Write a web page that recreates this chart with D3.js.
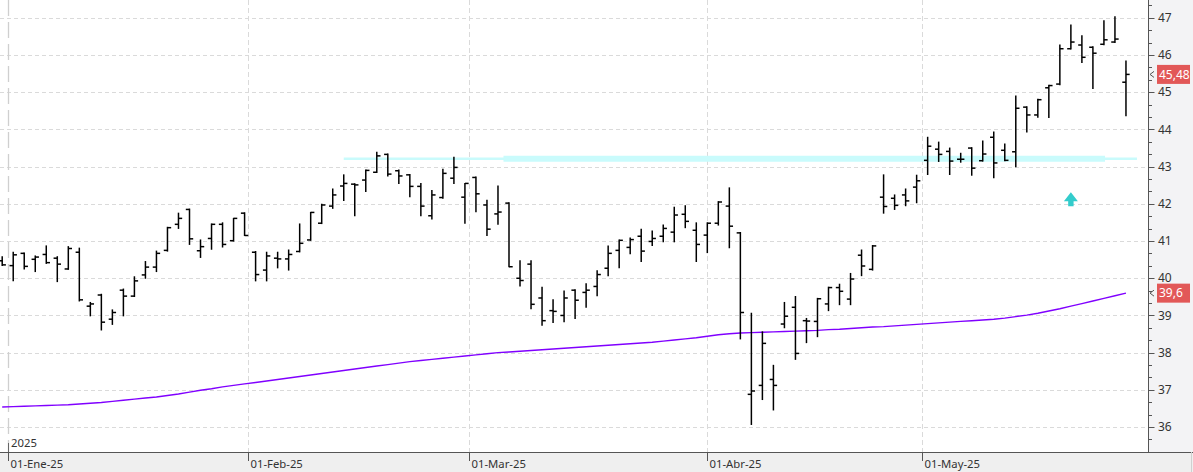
<!DOCTYPE html>
<html>
<head>
<meta charset="utf-8">
<script src="https://cdn.jsdelivr.net/npm/d3@7"></script>
<style>
    body { margin: 0; background: #fff; }
    svg { display: block; font-family: "Noto Sans", sans-serif; }
</style>
</head>
<body>
<div id="chart"></div>
<script>
// Daily bars, 31-Dic-24 .. 28-May-25
const opens = [40.47,40.34,40.67,40.51,40.64,40.54,40.25,40.70,39.25,39.55,
    38.90,39.68,39.52,40.09,40.30,40.75,41.45,41.85,40.74,41.07,
    41.45,41.01,41.75,40.70,40.22,40.54,40.52,40.72,41.03,41.48,
    41.94,42.48,42.53,42.64,42.85,43.33,42.89,42.78,42.47,41.68,
    42.17,42.69,42.18,42.71,41.97,41.73,42.02,40.00,40.38,39.47,
    39.13,39.00,39.68,39.62,39.78,40.27,40.75,40.83,41.13,40.99,
    41.13,41.24,41.72,41.29,41.16,41.48,41.94,41.22,36.88,37.12,
    37.28,38.77,39.22,38.86,38.84,39.31,39.75,39.44,40.62,40.24,
    42.18,42.15,42.24,42.45,43.17,43.47,43.41,43.20,43.50,43.16,
    43.79,43.44,43.40,44.60,44.39,45.12,45.22,46.17,46.27,46.21,
    46.29,46.35,45.27];
const highs = [40.58,40.70,40.68,40.60,40.87,40.58,40.85,40.81,39.35,39.57,
    39.15,39.71,40.04,40.45,40.73,41.37,41.75,41.86,41.03,41.46,
    41.49,41.61,41.76,40.72,40.70,40.70,40.76,41.46,41.77,41.99,
    42.40,42.78,42.54,42.91,43.39,43.34,42.91,42.79,42.55,42.36,
    42.93,43.25,42.55,42.72,42.10,42.48,42.03,40.47,40.47,39.76,
    39.42,39.66,39.69,39.85,40.20,40.87,41.03,41.08,41.32,41.27,
    41.43,41.91,41.95,41.49,41.49,42.06,42.43,41.23,39.06,38.56,
    37.66,39.35,39.51,38.92,39.46,39.76,39.84,40.13,40.76,40.88,
    42.78,42.24,42.40,42.77,43.79,43.66,43.50,43.36,43.51,43.69,
    43.93,43.61,44.90,44.61,44.81,45.19,46.27,46.81,46.52,46.22,
    46.92,47.03,45.84];
const lows = [40.34,39.93,40.25,40.18,40.40,39.91,40.24,39.39,38.99,38.61,
    38.76,38.99,39.51,40.00,40.18,40.73,41.34,40.91,40.56,40.78,
    40.84,41.00,41.15,39.93,39.93,40.28,40.22,40.71,41.02,41.47,
    41.88,42.09,41.68,42.33,42.84,42.75,42.55,42.19,41.68,41.59,
    42.15,42.55,41.48,41.79,41.15,41.45,40.31,39.79,39.18,38.74,
    38.81,38.83,38.92,39.22,39.53,40.07,40.28,40.66,40.45,40.88,
    40.98,40.98,41.36,40.45,40.69,41.43,40.82,38.37,36.07,36.74,
    36.46,38.67,37.82,38.27,38.43,39.13,39.29,39.29,40.07,40.22,
    41.75,41.85,41.95,42.03,42.79,43.14,42.79,43.12,42.77,43.15,
    42.70,43.16,43.00,43.93,44.33,44.32,45.20,46.16,45.80,45.10,
    46.28,46.34,44.37];
const closes = [40.36,40.63,40.32,40.57,40.42,40.38,40.80,39.42,39.31,38.82,
    39.08,39.52,39.93,40.30,40.67,41.36,41.61,41.06,40.85,41.45,
    40.91,41.61,41.15,40.10,40.60,40.52,40.64,40.94,41.77,41.97,
    42.24,42.55,42.51,42.90,43.29,42.80,42.75,42.47,41.94,42.24,
    42.82,42.98,42.55,42.27,41.32,41.78,40.31,39.94,39.30,38.86,
    39.11,39.47,39.41,39.68,40.10,40.67,41.02,41.04,40.73,41.07,
    41.34,41.70,41.53,40.91,41.48,42.05,41.40,39.08,36.97,38.25,
    37.12,38.98,37.98,38.85,39.45,39.75,39.65,39.98,40.33,40.87,
    41.93,41.96,42.08,42.62,43.55,43.33,43.15,43.20,42.96,43.34,
    43.10,43.17,44.57,44.39,44.80,45.18,46.17,46.35,45.94,46.05,
    46.41,46.43,45.48];
// long moving average (purple line)
const movingAvg = [36.54,36.55,36.56,36.57,36.58,36.59,36.60,36.62,36.64,36.66,
    36.69,36.72,36.75,36.78,36.81,36.85,36.89,36.94,36.99,37.03,
    37.08,37.12,37.16,37.20,37.24,37.28,37.32,37.36,37.40,37.44,
    37.48,37.52,37.56,37.60,37.64,37.68,37.72,37.76,37.79,37.82,
    37.85,37.88,37.91,37.94,37.97,38.00,38.02,38.04,38.06,38.08,
    38.10,38.12,38.14,38.16,38.18,38.20,38.22,38.24,38.26,38.28,
    38.31,38.34,38.37,38.40,38.44,38.48,38.51,38.53,38.54,38.55,
    38.56,38.57,38.58,38.59,38.60,38.62,38.63,38.65,38.67,38.69,
    38.70,38.72,38.74,38.76,38.78,38.80,38.82,38.84,38.86,38.88,
    38.90,38.93,38.97,39.01,39.06,39.12,39.18,39.25,39.32,39.39,
    39.46,39.53,39.60];

// trading calendar
const firstDay = '2024-12-31';
const lastDay = '2025-05-28';
const holidays = ['2025-01-01', '2025-04-18', '2025-04-21', '2025-05-01'];

const monthDates = ['2025-01-01', '2025-02-01', '2025-03-01', '2025-04-01', '2025-05-01'];
const monthLabels = ['01-Ene-25', '01-Feb-25', '01-Mar-25', '01-Abr-25', '01-May-25'];
const yearLabel = '2025';

const priceTicks = d3.range(36, 48);
const resistanceLevel = 43.21;
const signalBar = 97;      // cyan up arrow
const signalLevel = 42.1;

// Configuration
const config = {
    width: 1193,
    height: 472,
    plotRight: 1148,
    plotBottom: 452,
    yMin: 35.33,
    yMax: 47.48,
    xMin: -0.2,
    xMax: 104,
    fontSize: '11.3px',
    textColor: '#333',
    gridColor: '#dadada'
};

const fmtDay = d3.utcFormat('%Y-%m-%d');
const parseDay = d3.utcParse('%Y-%m-%d');
const days = d3.utcDays(parseDay(firstDay), d3.utcDay.offset(parseDay(lastDay), 1))
    .filter(d => d.getUTCDay() % 6 !== 0 && !holidays.includes(fmtDay(d)));

const bars = days.map((d, i) => ({
    date: d, i,
    open: opens[i], high: highs[i], low: lows[i], close: closes[i], ma: movingAvg[i]
}));

// a calendar date that is not a trading day sits between its neighbouring bars
function dateToIndex(date) {
    const k = d3.bisectRight(days, date) - 1;
    if (+days[k] === +date || k >= days.length - 1) return k;
    return k + (date - days[k]) / (days[k + 1] - days[k]);
}

const x = d3.scaleLinear().domain([config.xMin, config.xMax]).range([0, config.plotRight]);
const y = d3.scaleLinear().domain([config.yMin, config.yMax]).range([config.plotBottom, 0]);

const svg = d3.select('#chart')
    .append('svg')
    .attr('width', config.width)
    .attr('height', config.height);

// panels
svg.append('rect').attr('width', config.width).attr('height', config.height).attr('fill', '#fff');
svg.append('rect')
    .attr('x', config.plotRight).attr('y', 0)
    .attr('width', config.width - config.plotRight).attr('height', config.plotBottom)
    .attr('fill', '#f3f3f5');
svg.append('rect')
    .attr('x', 0).attr('y', config.plotBottom)
    .attr('width', config.width).attr('height', config.height - config.plotBottom)
    .attr('fill', '#efefef');

const plot = svg.append('g');

// horizontal grid
plot.selectAll('.hgrid')
    .data(priceTicks)
    .join('line')
    .attr('class', 'hgrid')
    .attr('x1', 0).attr('x2', config.plotRight)
    .attr('y1', d => Math.round(y(d)) + 0.5).attr('y2', d => Math.round(y(d)) + 0.5)
    .attr('stroke', config.gridColor)
    .attr('stroke-dasharray', '4,3');

// vertical grid at month starts
const months = monthDates.map((m, k) => ({
    label: monthLabels[k],
    pos: Math.round(x(dateToIndex(parseDay(m)))) + 0.5,
    year: k === 0
}));

plot.selectAll('.vgrid')
    .data(months)
    .join('line')
    .attr('class', 'vgrid')
    .attr('x1', d => d.pos).attr('x2', d => d.pos)
    .attr('y1', 0).attr('y2', config.plotBottom)
    .attr('stroke', d => d.year ? '#cfcfcf' : config.gridColor)
    .attr('stroke-width', d => d.year ? 1.3 : 1)
    .attr('stroke-dasharray', d => d.year ? '16,6' : '5,3');

// resistance band (thin tail, glowing middle)
const bandY = y(resistanceLevel);
plot.append('line')
    .attr('x1', x(31)).attr('x2', x(103))
    .attr('y1', bandY).attr('y2', bandY)
    .attr('stroke', '#c9fbfc').attr('stroke-width', 2.5);
plot.append('line')
    .attr('x1', x(45.5)).attr('x2', x(100.1))
    .attr('y1', bandY).attr('y2', bandY)
    .attr('stroke', '#c9fbfc').attr('stroke-width', 6);

// moving average
plot.append('path')
    .datum(bars)
    .attr('fill', 'none')
    .attr('stroke', '#8000ff')
    .attr('stroke-width', 1.4)
    .attr('d', d3.line().x(d => x(d.i)).y(d => y(d.ma)));

// OHLC bars
const barG = plot.selectAll('.bar')
    .data(bars)
    .join('g')
    .attr('class', 'bar')
    .attr('stroke', '#000')
    .attr('stroke-width', 1.5);

barG.append('line')
    .attr('x1', d => x(d.i)).attr('x2', d => x(d.i))
    .attr('y1', d => y(d.high) - 0.5).attr('y2', d => y(d.low) + 0.5);
barG.append('line')
    .attr('x1', d => x(d.i) - 3.7).attr('x2', d => x(d.i))
    .attr('y1', d => y(d.open)).attr('y2', d => y(d.open));
barG.append('line')
    .attr('x1', d => x(d.i)).attr('x2', d => x(d.i) + 3.7)
    .attr('y1', d => y(d.close)).attr('y2', d => y(d.close));

// signal arrow
const ax = x(signalBar), ay = y(signalLevel);
plot.append('path')
    .attr('d', `M${ax},${ay - 8} L${ax + 7},${ay + 1} L${ax + 2.7},${ay + 1} L${ax + 2.7},${ay + 6}` +
               ` L${ax - 2.7},${ay + 6} L${ax - 2.7},${ay + 1} L${ax - 7},${ay + 1} Z`)
    .attr('fill', '#33cccc');

// year marker
plot.append('text')
    .attr('x', months[0].pos + 2.5)
    .attr('y', config.plotBottom - 5)
    .attr('font-size', config.fontSize)
    .attr('fill', config.textColor)
    .text(yearLabel);
plot.append('line')
    .attr('x1', months[0].pos).attr('x2', months[0].pos)
    .attr('y1', config.plotBottom - 9).attr('y2', config.plotBottom)
    .attr('stroke', '#666');

// bottom axis
svg.append('line')
    .attr('x1', 0).attr('x2', config.width)
    .attr('y1', config.plotBottom + 0.5).attr('y2', config.plotBottom + 0.5)
    .attr('stroke', '#555');
const xt = svg.selectAll('.xtick')
    .data(months)
    .join('g')
    .attr('class', 'xtick')
    .attr('transform', d => `translate(${d.pos},${config.plotBottom})`);
xt.append('line').attr('y1', 0).attr('y2', 9).attr('stroke', '#555');
xt.append('text')
    .attr('x', 2).attr('y', 16)
    .attr('font-size', config.fontSize)
    .attr('fill', config.textColor)
    .text(d => d.label);
svg.append('line')
    .attr('x1', config.width - 1.5).attr('x2', config.width - 1.5)
    .attr('y1', config.plotBottom).attr('y2', config.height)
    .attr('stroke', '#d0d0d0');

// right axis
const axisX = config.plotRight + 0.5;
svg.append('line')
    .attr('x1', axisX).attr('x2', axisX)
    .attr('y1', 0).attr('y2', config.plotBottom)
    .attr('stroke', '#555');
const minorTicks = d3.range(config.yMin, config.yMax, 1 / 3)
    .map(v => Math.round(v * 3) / 3)
    .filter(v => v >= config.yMin && v <= config.yMax);
svg.selectAll('.ytick')
    .data(minorTicks)
    .join('line')
    .attr('class', 'ytick')
    .attr('x1', axisX)
    .attr('x2', v => Math.abs(v - Math.round(v)) < 0.01 ? axisX + 6 : axisX + 3.5)
    .attr('y1', v => Math.round(y(v)) + 0.5).attr('y2', v => Math.round(y(v)) + 0.5)
    .attr('stroke', '#555');
svg.selectAll('.ylabel')
    .data(priceTicks)
    .join('text')
    .attr('class', 'ylabel')
    .attr('x', config.plotRight + 10)
    .attr('y', d => y(d))
    .attr('dy', '0.35em')
    .attr('font-size', '12px')
    .attr('fill', config.textColor)
    .text(d => d);

// last value flags
const flags = [
    { value: closes[closes.length - 1] },
    { value: movingAvg[movingAvg.length - 1] }
];
const flag = svg.selectAll('.flag')
    .data(flags)
    .join('g')
    .attr('class', 'flag')
    .attr('transform', d => `translate(${config.plotRight},${y(d.value)})`);
flag.append('rect')
    .attr('x', 9).attr('y', -9.5)
    .attr('width', 33).attr('height', 19)
    .attr('fill', '#e25858');
flag.append('text')
    .attr('x', 11).attr('dy', '0.35em')
    .attr('font-size', '12px')
    .attr('fill', '#fff')
    .text(d => String(d.value).replace('.', ','));
flag.append('path')
    .attr('d', 'M6,-3 L2,0 L6,3')
    .attr('fill', 'none')
    .attr('stroke', '#555');
</script>
</body>
</html>
